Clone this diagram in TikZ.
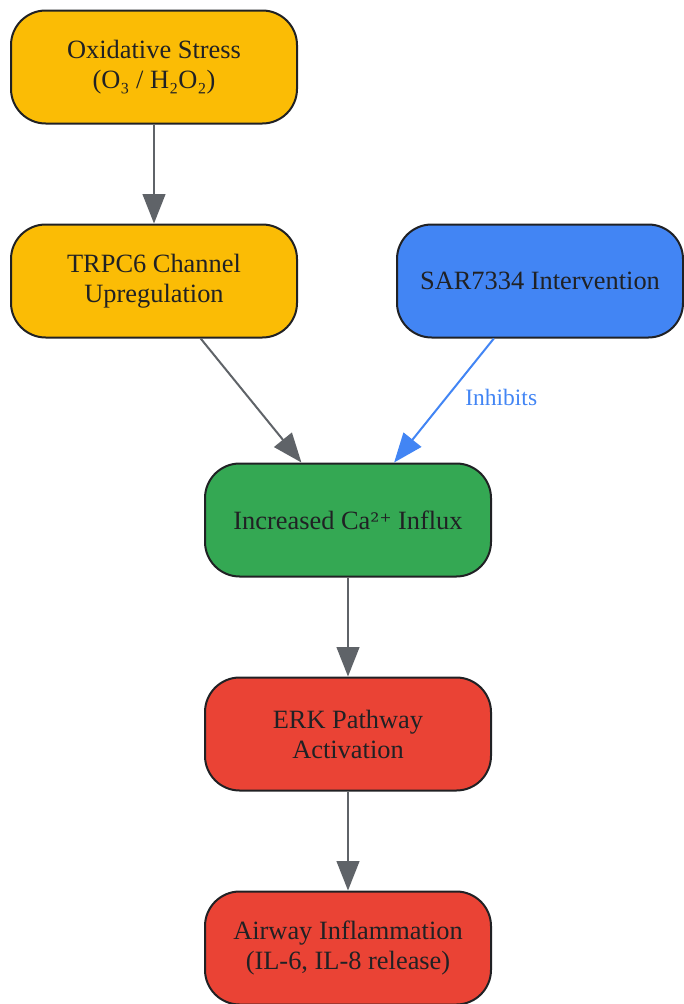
\documentclass[tikz,border=0pt]{standalone}
\usepackage{fontspec}
\setmainfont{Liberation Serif}
\newfontfamily\symfont{DejaVu Serif}
\usetikzlibrary{arrows.meta}
\definecolor{yellow1}{HTML}{FBBC05}
\definecolor{blue1}{HTML}{4285F4}
\definecolor{green1}{HTML}{34A853}
\definecolor{red1}{HTML}{EA4335}
\definecolor{gray1}{HTML}{5F6368}
\definecolor{ink}{HTML}{202124}
\tikzset{
  box/.style={draw=ink, line width=1.5pt, rounded corners=26pt, minimum width=214.5pt,
    minimum height=84.75pt, align=center, text=ink, font=\fontsize{19.8}{22.5}\selectfont},
  flow/.style={draw=gray1, line width=1.5pt, -{Triangle[length=22pt,width=17pt]}}
}

\begin{document}
\begin{tikzpicture}[x=0.75pt, y=-0.75pt]
  \useasboundingbox (0,0) rectangle (683,1004);
  \node[box, fill=yellow1] (stress) at (154,67) {Oxidative Stress\\(O₃ / H₂O₂)};
  \node[box, fill=yellow1] (trpc) at (154,281) {TRPC6 Channel\\Upregulation};
  \node[box, fill=blue1] (sar) at (540,281) {SAR7334 Intervention};
  \node[box, fill=green1] (calc) at (348,520) {Increased Ca{\symfont\fontsize{17}{20}\selectfont ²⁺} Influx};
  \node[box, fill=red1] (erk) at (348,734) {ERK Pathway\\Activation};
  \node[box, fill=red1] (infl) at (348,948) {Airway Inflammation\\(IL-6, IL-8 release)};
  \foreach \from/\to in {stress/trpc, trpc/calc, calc/erk, erk/infl}
    \draw[flow] (\from) -- (\to);
  \draw[flow, draw=blue1, fill=blue1] (sar) -- (calc)
    node[midway, anchor=west, xshift=12pt, yshift=2pt, text=blue1, font=\fontsize{17.6}{20}\selectfont] (inh) {Inhibits};
\end{tikzpicture}
\end{document}
